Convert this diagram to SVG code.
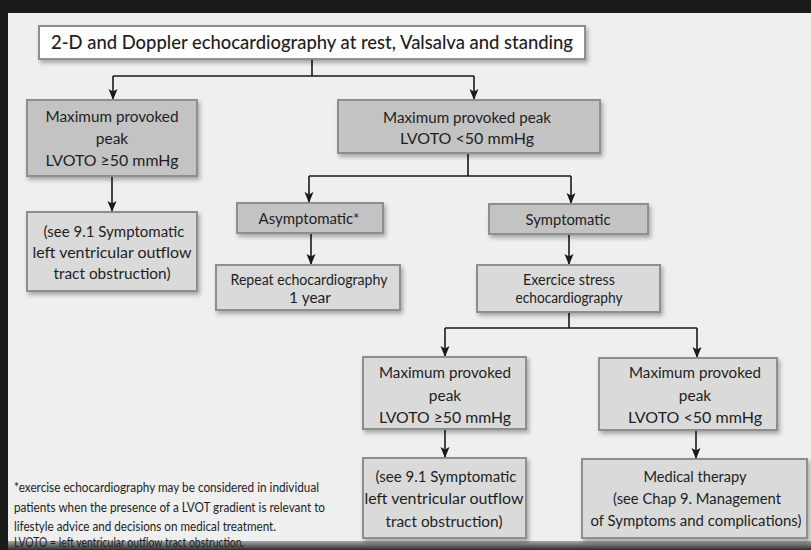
<svg xmlns="http://www.w3.org/2000/svg" width="811" height="550" viewBox="0 0 811 550">
<defs>
<style>
.t{font-family:Lato,"Open Sans","Liberation Sans",sans-serif;font-size:15.5px;fill:#1e1e1e;text-anchor:middle}
.tt{font-size:19px;font-weight:500}
.fn{font-family:Lato,"Open Sans","Liberation Sans",sans-serif;font-size:12.5px;fill:#1e1e1e}
.b{stroke:#8e8e8e;stroke-width:2;filter:url(#sh)}
.dk{fill:#c3c3c3}
.lt{fill:#dadada}
.w{fill:#ffffff}
.c{fill:none;stroke:#1a1a1a;stroke-width:1.6}
.a{marker-end:url(#ar)}
</style>
<filter id="sh" x="-10%" y="-20%" width="125%" height="150%">
<feDropShadow dx="2" dy="3" stdDeviation="2" flood-color="#000" flood-opacity="0.3"/>
</filter>
<marker id="ar" markerUnits="userSpaceOnUse" markerWidth="10" markerHeight="12" viewBox="0 0 10 12" refX="11" refY="6" orient="auto">
<path d="M0,1.5 L11,6 L0,10.5 L2.5,6 z" fill="#1a1a1a"/>
</marker>
<linearGradient id="bot" x1="0" y1="0" x2="0" y2="1">
<stop offset="0" stop-color="#a8a8a8"/>
<stop offset="1" stop-color="#2a2a2a"/>
</linearGradient>
</defs>
<rect x="0" y="0" width="811" height="550" fill="#1b1b1b"/>
<rect x="8" y="13" width="803" height="529" fill="#efefef"/>
<rect x="8" y="541" width="803" height="9" fill="url(#bot)"/>

<g id="connectors">
<path class="c" d="M312 59 V76 M113 76 H474"/>
<path class="c a" d="M113 76 V100"/>
<path class="c a" d="M474 76 V100"/>
<path class="c a" d="M112 176 V212"/>
<path class="c" d="M468 153 V176 M309 176 H571"/>
<path class="c a" d="M309 176 V203"/>
<path class="c a" d="M571 176 V204"/>
<path class="c a" d="M311 233 V265"/>
<path class="c a" d="M569 234 V265"/>
<path class="c" d="M569 312 V328 M445 328 H697"/>
<path class="c a" d="M445 328 V357"/>
<path class="c a" d="M697 328 V358"/>
<path class="c a" d="M445 429 V458"/>
<path class="c a" d="M696 430 V459"/>
</g>

<g id="n-title">
<rect class="b w" x="39" y="26" width="546" height="33"/>
<text class="t tt" x="312" y="49" textLength="522" lengthAdjust="spacingAndGlyphs">2-D and Doppler echocardiography at rest, Valsalva and standing</text>
</g>
<g id="n-peak-high">
<rect class="b dk" x="27" y="100" width="170" height="76"/>
<text class="t" x="112" y="121.5" textLength="133" lengthAdjust="spacingAndGlyphs">Maximum provoked</text>
<text class="t" x="112" y="143.5">peak</text>
<text class="t" x="112" y="165.5" textLength="133" lengthAdjust="spacingAndGlyphs">LVOTO ≥50 mmHg</text>
</g>
<g id="n-peak-low">
<rect class="b dk" x="338" y="100" width="262" height="53"/>
<text class="t" x="467" y="122.5" textLength="168" lengthAdjust="spacingAndGlyphs">Maximum provoked peak</text>
<text class="t" x="467" y="143.5" textLength="134" lengthAdjust="spacingAndGlyphs">LVOTO &lt;50 mmHg</text>
</g>
<g id="n-see1">
<rect class="b lt" x="27" y="212" width="170" height="79"/>
<text class="t" x="114" y="236.5" textLength="141" lengthAdjust="spacingAndGlyphs">(see 9.1 Symptomatic</text>
<text class="t" x="112" y="257.5" textLength="159" lengthAdjust="spacingAndGlyphs">left ventricular outflow</text>
<text class="t" x="112" y="278.5" textLength="117" lengthAdjust="spacingAndGlyphs">tract obstruction)</text>
</g>
<g id="n-asym">
<rect class="b dk" x="237" y="203" width="146" height="30"/>
<text class="t" x="309" y="223.5" textLength="101" lengthAdjust="spacingAndGlyphs">Asymptomatic*</text>
</g>
<g id="n-sym">
<rect class="b dk" x="489" y="204" width="159" height="30"/>
<text class="t" x="568" y="224.5" textLength="85" lengthAdjust="spacingAndGlyphs">Symptomatic</text>
</g>
<g id="n-repeat">
<rect class="b lt" x="216" y="265" width="184" height="45"/>
<text class="t" x="309" y="285" textLength="157" lengthAdjust="spacingAndGlyphs">Repeat echocardiography</text>
<text class="t" x="310" y="302.5">1 year</text>
</g>
<g id="n-exercise">
<rect class="b lt" x="477" y="265" width="183" height="47"/>
<text class="t" x="569" y="284.5" textLength="92" lengthAdjust="spacingAndGlyphs">Exercice stress</text>
<text class="t" x="569" y="302.5" textLength="107" lengthAdjust="spacingAndGlyphs">echocardiography</text>
</g>
<g id="n-ex-high">
<rect class="b lt" x="363" y="357" width="163" height="72"/>
<text class="t" x="445" y="377.5" textLength="132" lengthAdjust="spacingAndGlyphs">Maximum provoked</text>
<text class="t" x="445" y="400.5">peak</text>
<text class="t" x="445" y="422.5" textLength="132" lengthAdjust="spacingAndGlyphs">LVOTO ≥50 mmHg</text>
</g>
<g id="n-ex-low">
<rect class="b lt" x="599" y="358" width="178" height="72"/>
<text class="t" x="695" y="377.5" textLength="132" lengthAdjust="spacingAndGlyphs">Maximum provoked</text>
<text class="t" x="695" y="400.5">peak</text>
<text class="t" x="695" y="422.5" textLength="134" lengthAdjust="spacingAndGlyphs">LVOTO &lt;50 mmHg</text>
</g>
<g id="n-see2">
<rect class="b lt" x="363" y="458" width="163" height="80"/>
<text class="t" x="446" y="481.5" textLength="141" lengthAdjust="spacingAndGlyphs">(see 9.1 Symptomatic</text>
<text class="t" x="444" y="503.5" textLength="159" lengthAdjust="spacingAndGlyphs">left ventricular outflow</text>
<text class="t" x="444" y="526.5" textLength="117" lengthAdjust="spacingAndGlyphs">tract obstruction)</text>
</g>
<g id="n-medical">
<rect class="b lt" x="582" y="459" width="225" height="79"/>
<text class="t" x="695" y="481.5" textLength="103" lengthAdjust="spacingAndGlyphs">Medical therapy</text>
<text class="t" x="697" y="503.5" textLength="168" lengthAdjust="spacingAndGlyphs">(see Chap 9. Management</text>
<text class="t" x="696" y="525.5" textLength="211" lengthAdjust="spacingAndGlyphs">of Symptoms and complications)</text>
</g>

<g id="footnote">
<text class="fn" x="14" y="491.5" textLength="305" lengthAdjust="spacingAndGlyphs">*exercise echocardiography may be considered in individual</text>
<text class="fn" x="14" y="511.5" textLength="311" lengthAdjust="spacingAndGlyphs">patients when the presence of a LVOT gradient is relevant to</text>
<text class="fn" x="14" y="530.5" textLength="262" lengthAdjust="spacingAndGlyphs">lifestyle advice and decisions on medical treatment.</text>
<text class="fn" x="14" y="546.5" textLength="230" lengthAdjust="spacingAndGlyphs">LVOTO = left ventricular outflow tract obstruction.</text>
</g>
</svg>
